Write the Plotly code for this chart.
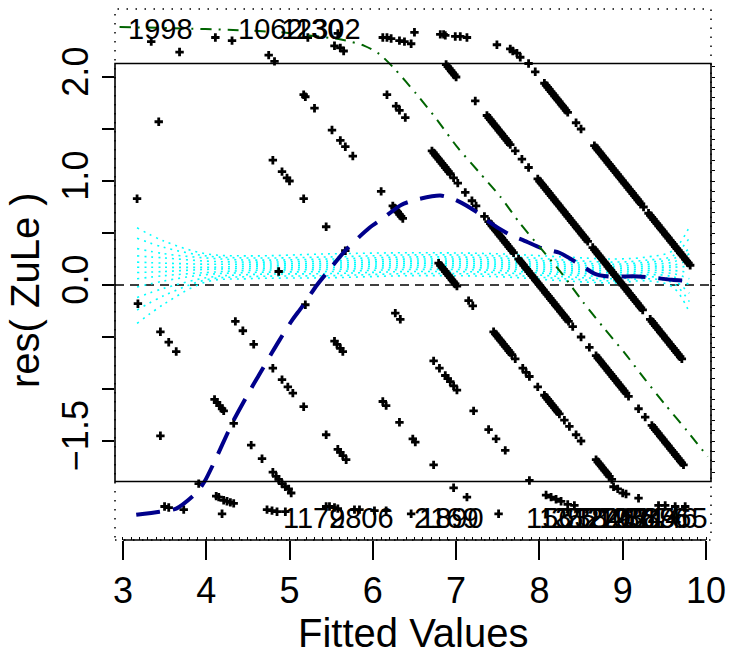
import plotly.graph_objects as go

FONT = "Liberation Sans, Arial, Helvetica, sans-serif"

# ---------------- data ----------------
# fitted values of observations, grouped by observed response ZuLe (residual = obs - fitted)
fit_y2 = [3.45]
fit_y3 = [3.18, 3.45, 3.55, 3.64, 4.10, 4.13, 4.16, 4.19, 4.21, 4.33, 4.54, 4.67, 4.80, 4.84, 4.87]
fit_y4 = [3.17, 4.35, 4.44, 4.57, 4.80, 4.91, 4.98, 5.04, 5.17, 5.44, 5.58, 5.61, 5.64, 5.68]
fit_y5 = [3.43, 4.87, 5.19, 5.54, 5.57, 5.61, 5.64, 6.12, 6.16, 6.32, 6.48, 6.51, 6.73]
fit_y6 = [4.80, 4.91, 4.97, 5.00, 5.17, 5.44, 5.67, 6.27, 6.33, 6.73, 6.80, 6.87, 6.90, 6.93,
          6.97, 7.01, 7.21, 7.39, 7.48, 7.59, 7.88]
fit_y7 = [5.17, 5.19, 5.30, 5.51, 5.61, 5.67, 5.76, 6.10, 6.24, 6.26, 6.28, 6.30, 6.32, 6.34,
          6.36, 6.79, 6.81, 6.83, 6.85, 6.87, 6.89, 6.91, 6.93, 6.95, 6.97, 6.99, 7.01, 7.15,
          7.20, 7.45, 7.47, 7.49, 7.51, 7.53, 7.55, 7.57, 7.59, 7.61, 7.63, 7.65, 7.67, 7.71,
          7.80, 7.84, 7.88, 7.98, 8.06, 8.08, 8.10, 8.12, 8.14, 8.16, 8.18, 8.20, 8.22, 8.24,
          8.30, 8.36, 8.44, 8.50, 8.68, 8.70, 8.72, 8.74, 8.76, 8.78, 8.80, 8.82, 8.84, 8.87]
fit_y8 = [6.17, 6.28, 6.32, 6.39, 6.71, 6.73, 6.75, 6.77, 6.79, 6.81, 6.83, 6.85, 6.87, 6.89,
          6.91, 6.93, 6.97, 7.02, 7.11, 7.19, 7.24, 7.34, 7.39, 7.41, 7.43, 7.45, 7.47, 7.49,
          7.51, 7.53, 7.55, 7.57, 7.59, 7.61, 7.63, 7.65, 7.67, 7.69, 7.75, 7.77, 7.79, 7.81,
          7.83, 7.85, 7.87, 7.89, 7.91, 7.93, 7.95, 7.97, 7.99, 8.01, 8.03, 8.05, 8.07, 8.09,
          8.11, 8.13, 8.15, 8.17, 8.19, 8.21, 8.23, 8.25, 8.27, 8.29, 8.31, 8.33, 8.35, 8.40,
          8.50, 8.60, 8.68, 8.70, 8.72, 8.74, 8.76, 8.78, 8.80, 8.82, 8.84, 8.86, 8.88, 8.90,
          8.92, 8.94, 8.96, 8.98, 9.00, 9.02, 9.04, 9.07, 9.19, 9.27, 9.35, 9.37, 9.39, 9.41,
          9.43, 9.45, 9.47, 9.49, 9.51, 9.53, 9.55, 9.57, 9.59, 9.61, 9.63, 9.65, 9.67, 9.69,
          9.71, 9.73]
fit_y9 = [6.88, 6.90, 6.92, 6.94, 6.96, 6.98, 7.00, 7.23, 7.37, 7.39, 7.41, 7.43, 7.45, 7.47,
          7.49, 7.51, 7.53, 7.55, 7.57, 7.59, 7.61, 7.63, 7.65, 7.71, 7.79, 7.87, 7.98, 8.00,
          8.02, 8.04, 8.06, 8.08, 8.10, 8.12, 8.14, 8.16, 8.18, 8.20, 8.22, 8.24, 8.26, 8.28,
          8.30, 8.32, 8.34, 8.36, 8.38, 8.40, 8.42, 8.44, 8.46, 8.48, 8.50, 8.52, 8.54, 8.56,
          8.58, 8.64, 8.66, 8.68, 8.70, 8.72, 8.74, 8.76, 8.78, 8.80, 8.82, 8.84, 8.86, 8.88,
          8.90, 8.92, 8.94, 8.96, 8.98, 9.00, 9.02, 9.04, 9.06, 9.08, 9.10, 9.12, 9.14, 9.16,
          9.18, 9.20, 9.22, 9.24, 9.33, 9.35, 9.37, 9.39, 9.41, 9.43, 9.45, 9.47, 9.49, 9.51,
          9.53, 9.55, 9.57, 9.59, 9.61, 9.63, 9.65, 9.67, 9.69, 9.71]
fit_y10 = [7.87, 7.95, 8.06, 8.08, 8.10, 8.12, 8.14, 8.16, 8.18, 8.20, 8.22, 8.24, 8.26, 8.28,
           8.30, 8.32, 8.34, 8.44, 8.50, 8.66, 8.68, 8.70, 8.72, 8.74, 8.76, 8.78, 8.80, 8.82,
           8.84, 8.86, 8.88, 8.90, 8.92, 8.94, 8.96, 8.98, 9.00, 9.02, 9.04, 9.06, 9.08, 9.10,
           9.12, 9.14, 9.16, 9.18, 9.20, 9.22, 9.25, 9.31, 9.33, 9.35, 9.37, 9.39, 9.41, 9.43,
           9.45, 9.47, 9.49, 9.51, 9.53, 9.55, 9.57, 9.59, 9.61, 9.63, 9.65, 9.67, 9.69, 9.71,
           9.73, 9.75, 9.77, 9.79, 9.81]
obs_levels = [2, 3, 4, 5, 6, 7, 8, 9, 10]

# outlying residuals drawn in the top / bottom margins (fitted, plotted position)
top_fit = [3.34, 3.68, 4.11, 4.31, 4.75, 4.82, 5.22, 5.58, 5.54, 5.61, 5.65, 6.12, 6.17, 6.22,
           6.32, 6.38, 6.46, 6.50, 6.81, 6.85, 6.87, 6.99, 7.05, 7.13, 7.49, 7.65, 7.68, 7.73, 7.77]
top_pos = [2.34, 2.24, 2.38, 2.35, 2.21, 2.15, 2.38, 2.42, 2.30, 2.28, 2.25, 2.38, 2.38, 2.37,
           2.35, 2.34, 2.32, 2.43, 2.41, 2.41, 2.40, 2.39, 2.39, 2.38, 2.31, 2.27, 2.25, 2.23, 2.19]
bot_fit = [3.50, 3.55, 3.73, 3.91, 4.12, 4.15, 4.21, 4.25, 4.29, 4.33, 4.19, 4.91, 4.95, 4.99,
           5.02, 4.73, 4.79, 4.85, 4.95, 5.44, 5.48, 5.54, 5.58, 5.78, 5.84, 6.02, 6.16, 6.46,
           6.97, 7.13, 7.51, 8.08, 8.14, 8.20, 8.26, 8.34, 8.42, 8.89, 8.94, 9.00, 9.04, 9.19,
           9.43, 9.51, 9.63, 9.75]
bot_pos = [-2.13, -2.14, -2.16, -1.91, -2.03, -2.04, -2.07, -2.08, -2.09, -2.10, -2.20, -1.91,
           -1.94, -1.96, -2.00, -2.16, -2.17, -2.18, -2.18, -2.13, -2.13, -2.14, -2.15, -2.16,
           -2.16, -2.17, -2.17, -2.20, -1.95, -2.04, -2.20, -2.02, -2.04, -2.06, -2.08, -2.11,
           -2.12, -1.94, -1.96, -2.00, -2.01, -2.05, -2.12, -2.12, -2.13, -2.13]

# smoother of the residuals (blue dashed)
smooth_fit = [3.16, 3.44, 3.64, 3.88, 3.98, 4.11, 4.19, 4.33, 4.55, 4.63, 4.79, 4.88, 5.03, 5.15,
              5.33, 5.43, 5.68, 5.96, 6.12, 6.34, 6.52, 6.81, 6.99, 7.25, 7.39, 7.65, 7.81, 8.04,
              8.24, 8.50, 8.66, 8.84, 9.12, 9.31, 9.59, 9.83]
smooth_res = [-2.21, -2.18, -2.15, -2.00, -1.89, -1.68, -1.54, -1.30, -0.98, -0.87, -0.65, -0.53,
              -0.34, -0.21, 0.00, 0.10, 0.34, 0.55, 0.64, 0.77, 0.82, 0.86, 0.82, 0.70, 0.61, 0.48,
              0.43, 0.35, 0.31, 0.19, 0.11, 0.08, 0.085, 0.075, 0.05, 0.04]

# green dash-dot curve
green_fit = [2.96, 3.6, 4.39, 4.9, 5.23, 5.62, 5.9, 6.08, 6.26, 6.52, 6.77, 7.01, 7.27, 7.53,
             7.77, 8.02, 8.28, 8.52, 8.76, 9.02, 9.27, 9.51, 9.77, 10.02]
green_res = [2.48, 2.47, 2.45, 2.43, 2.40, 2.36, 2.30, 2.22, 2.08, 1.84, 1.59, 1.33, 1.09, 0.85,
             0.59, 0.35, 0.10, -0.16, -0.40, -0.65, -0.91, -1.15, -1.40, -1.65]

# cyan dotted envelope curves
env_fit = [3.17, 3.5, 4.0, 4.5, 5.5, 6.5, 7.5, 8.3, 8.9, 9.3, 9.6, 9.8]
env_curves = [
    [0.55, 0.42, 0.30, 0.28, 0.30, 0.31, 0.30, 0.27, 0.25, 0.27, 0.33, 0.56],
    [0.45, 0.36, 0.28, 0.26, 0.27, 0.29, 0.28, 0.24, 0.22, 0.24, 0.28, 0.45],
    [0.35, 0.30, 0.26, 0.24, 0.25, 0.27, 0.26, 0.22, 0.20, 0.22, 0.25, 0.35],
    [0.28, 0.26, 0.23, 0.22, 0.23, 0.25, 0.24, 0.20, 0.18, 0.20, 0.22, 0.30],
    [0.22, 0.21, 0.20, 0.20, 0.21, 0.23, 0.22, 0.18, 0.16, 0.18, 0.19, 0.24],
    [0.17, 0.17, 0.17, 0.18, 0.19, 0.21, 0.20, 0.16, 0.14, 0.16, 0.17, 0.18],
    [0.12, 0.13, 0.15, 0.16, 0.17, 0.19, 0.18, 0.14, 0.12, 0.14, 0.14, 0.12],
    [0.06, 0.09, 0.12, 0.14, 0.15, 0.17, 0.16, 0.12, 0.10, 0.12, 0.11, 0.06],
    [-0.02, 0.04, 0.10, 0.12, 0.13, 0.15, 0.14, 0.10, 0.08, 0.10, 0.08, 0.00],
    [-0.12, -0.03, 0.07, 0.10, 0.11, 0.13, 0.12, 0.08, 0.06, 0.08, 0.05, -0.08],
    [-0.24, -0.10, 0.05, 0.08, 0.09, 0.11, 0.10, 0.06, 0.04, 0.06, 0.02, -0.16],
    [-0.37, -0.18, 0.03, 0.06, 0.07, 0.09, 0.08, 0.04, 0.02, 0.04, -0.02, -0.26],
]

# case labels of the outliers
top_label_text = ["1998", "1062", "1130", "2302"]
top_label_fit = [3.452, 4.768, 5.268, 5.464]
bot_label_text = ["1179", "2806", "2169", "1890", "1563", "1312", "2527", "2510", "1848",
                  "2261", "1954", "2389", "1676", "2146", "1565"]
bot_label_fit = [5.298, 5.869, 6.881, 6.940, 8.226, 8.38, 8.53, 8.68, 8.82, 8.96, 9.10, 9.25,
                 9.39, 9.51, 9.63]
top_label_pos = 2.46
bot_label_pos = -2.24

x_ticks = [3, 4, 5, 6, 7, 8, 9, 10]
y_ticks = [-1.5, -1.0, -0.5, 0.0, 0.5, 1.0, 1.5, 2.0]
y_tick_text = ["\u22121.5", "", "", "0.0", "", "1.0", "", "2.0"]
box_low, box_high = -1.89, 2.13

# ---------------- figure ----------------
fig = go.Figure()

for curve in env_curves:
    fig.add_trace(go.Scatter(x=env_fit, y=curve, mode="lines",
                             line=dict(color="#00FFFF", width=1.6, dash="2px,5px", shape="spline"),
                             hoverinfo="skip"))

groups = [fit_y2, fit_y3, fit_y4, fit_y5, fit_y6, fit_y7, fit_y8, fit_y9, fit_y10]
px, py = [], []
for lev, fits in zip(obs_levels, groups):
    for f in fits:
        px.append(f)
        py.append(round(lev - f, 3))
px += top_fit + bot_fit
py += top_pos + bot_pos
fig.add_trace(go.Scatter(x=px, y=py, mode="markers",
                         marker=dict(symbol="cross", size=7, color="black", line=dict(width=0))))

fig.add_trace(go.Scatter(x=smooth_fit, y=smooth_res, mode="lines",
                         line=dict(color="#00008B", width=4, dash="24px,13px", shape="spline",
                                   smoothing=0.7)))
fig.add_trace(go.Scatter(x=green_fit, y=green_res, mode="lines",
                         line=dict(color="#006400", width=2, dash="11px,7px,2px,7px", shape="spline",
                                   smoothing=0.7)))

# invisible trace for the right-hand tick axis
fig.add_trace(go.Scatter(x=[3], y=[0], yaxis="y2", mode="markers",
                         marker=dict(opacity=0), hoverinfo="skip"))

annotations = []
for t, f in zip(top_label_text, top_label_fit):
    annotations.append(dict(x=f, y=top_label_pos, text=t, showarrow=False, xref="x", yref="y",
                            font=dict(family=FONT, size=29, color="black")))
for t, f in zip(bot_label_text, bot_label_fit):
    annotations.append(dict(x=f, y=bot_label_pos, text=t, showarrow=False, xref="x", yref="y",
                            font=dict(family=FONT, size=29, color="black")))
annotations.append(dict(x=0.5, y=-0.175, xref="paper", yref="paper", text="Fitted Values",
                        showarrow=False, font=dict(family=FONT, size=40, color="black"),
                        xanchor="center", yanchor="middle"))
annotations.append(dict(x=-0.15, y=0.47, xref="paper", yref="paper", text="res( ZuLe )",
                        showarrow=False, textangle=-90, font=dict(family=FONT, size=40, color="black"),
                        xanchor="center", yanchor="middle"))

shapes = [
    dict(type="line", xref="paper", yref="y", x0=0, x1=1, y0=0, y1=0, layer="below",
         line=dict(color="black", width=1.5, dash="9px,6px")),
    dict(type="rect", xref="paper", yref="paper", x0=0, x1=1, y0=0, y1=1,
         line=dict(color="black", width=1.5, dash="1.5px,7.5px")),
    dict(type="rect", xref="paper", yref="y", x0=0, x1=1, y0=box_low, y1=box_high,
         line=dict(color="black", width=1.6)),
    dict(type="line", xref="x", yref="paper", x0=3, x1=10, y0=0, y1=0,
         line=dict(color="black", width=1.5)),
]

right_ticks = [-1.8, -1.7, -1.6, -1.5, -1.4, -1.3, -1.2, -1.1, -1.0, -0.9, -0.8, -0.7, -0.6, -0.5,
               -0.4, -0.3, -0.2, -0.1, 0.0, 0.1, 0.2, 0.3, 0.4, 0.5, 0.6, 0.7, 0.8, 0.9, 1.0, 1.1,
               1.2, 1.3, 1.4, 1.5, 1.6, 1.7, 1.8, 1.9, 2.0, 2.1]

fig.update_layout(
    width=735, height=659,
    margin=dict(l=115, r=19, t=9, b=119),
    plot_bgcolor="white", paper_bgcolor="white",
    showlegend=False,
    font=dict(family=FONT, color="black"),
    xaxis=dict(range=[2.905, 10.06], tickmode="array", tickvals=x_ticks,
               ticktext=[str(v) for v in x_ticks], ticks="outside", ticklen=19, tickwidth=1.5,
               tickcolor="black", tickfont=dict(size=36, family=FONT), showgrid=False,
               zeroline=False, showline=False,
               minor=dict(ticks="inside", ticklen=3, tick0=3, dtick=0.1, tickcolor="black",
                          tickwidth=1, showgrid=False)),
    yaxis=dict(range=[-2.452, 2.654], tickmode="array", tickvals=y_ticks, ticktext=y_tick_text,
               ticks="outside", ticklen=12, tickwidth=1.5, tickcolor="black", tickangle=-90,
               tickfont=dict(size=36, family=FONT), showgrid=False, zeroline=False,
               showline=False),
    yaxis2=dict(range=[-2.452, 2.654], overlaying="y", side="right", tickmode="array",
                tickvals=right_ticks, ticks="outside", ticklen=3, tickwidth=1, tickcolor="black",
                showticklabels=False, showgrid=False, zeroline=False, showline=False),
    shapes=shapes,
    annotations=annotations,
)

fig.write_html("out.html")
